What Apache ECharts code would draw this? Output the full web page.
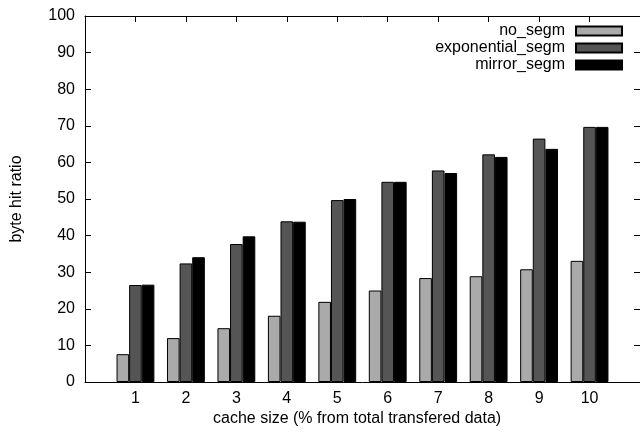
<!DOCTYPE html>
<html>
<head>
<meta charset="utf-8">
<script src="https://cdn.jsdelivr.net/npm/echarts@6/dist/echarts.min.js"></script>
<style>html,body{margin:0;padding:0;background:#fff;}#c{width:640px;height:432px;}</style>
</head>
<body>
<div id="c"></div>
<script>
var categories = [1, 2, 3, 4, 5, 6, 7, 8, 9, 10];
var xTickLabels = ['1', '2', '3', '4', '5', '6', '7', '8', '9', '10'];
var yTicks = [0, 10, 20, 30, 40, 50, 60, 70, 80, 90, 100];
var seriesNames = ['no_segm', 'exponential_segm', 'mirror_segm'];
var noSegm = [7.6, 12.0, 14.7, 18.1, 21.9, 25.0, 28.4, 28.9, 30.8, 33.1];
var exponentialSegm = [26.5, 32.4, 37.7, 43.9, 49.7, 54.7, 57.8, 62.2, 66.5, 69.7];
var mirrorSegm = [26.6, 34.1, 39.8, 43.8, 50.0, 54.7, 57.1, 61.5, 63.7, 69.7];
var colors = ['#aaaaaa', '#555555', '#000000'];

var FONT = 'Liberation Sans, Arial, Helvetica, sans-serif';
var FS = 16;

function pairs(vals) {
  return categories.map(function (c, i) { return [c, vals[i]]; });
}
var allVals = [noSegm, exponentialSegm, mirrorSegm];

var chart = echarts.init(document.getElementById('c'), null, {renderer: 'canvas'});
var xBase = {
  type: 'value', min: 0, max: 11, interval: 1,
  axisLine: {show: true, onZero: false, lineStyle: {color: '#000', width: 1}},
  splitLine: {show: false},
  axisTick: {show: true, inside: true, length: 6, lineStyle: {color: '#000'}, customValues: categories},
  axisLabel: {show: true, customValues: categories, color: '#000', fontFamily: FONT, fontSize: FS, margin: 9,
    formatter: function (v) { var i = categories.indexOf(v); return i >= 0 ? xTickLabels[i] : ''; }}
};
var yBase = {
  type: 'value', min: 0, max: 100, interval: 10,
  axisLine: {show: true, onZero: false, lineStyle: {color: '#000', width: 1}},
  splitLine: {show: false},
  axisTick: {show: true, inside: true, length: 6, lineStyle: {color: '#000'}},
  axisLabel: {show: true, color: '#000', fontFamily: FONT, fontSize: FS, margin: 10,
    formatter: function (v) { return yTicks.indexOf(v) >= 0 ? String(v) : ''; }}
};

var option = {
  animation: false,
  backgroundColor: '#fff',
  grid: {left: 85, right: -3, top: 16, bottom: 50, containLabel: false},
  xAxis: [
    xBase,
    Object.assign({}, xBase, {position: 'top', axisLabel: {show: false}})
  ],
  yAxis: [
    yBase,
    Object.assign({}, yBase, {position: 'right', axisLabel: {show: false}})
  ],
  legend: {
    orient: 'vertical', right: 12, top: 18, align: 'right',
    itemWidth: 46, itemHeight: 9, itemGap: 1,
    icon: 'rect',
    textStyle: {color: '#000', fontFamily: FONT, fontSize: FS, lineHeight: 16, padding: [0, 6, 0, 0]},
    data: seriesNames
  },
  series: seriesNames.map(function (n, i) {
    return {
      name: n, type: 'bar', xAxisIndex: 0, yAxisIndex: 0,
      data: pairs(allVals[i]),
      barWidth: '25%', barGap: '0%',
      itemStyle: {color: colors[i], borderColor: '#000', borderWidth: 1}
    };
  }),
  graphic: [
    {type: 'text', left: 213, top: 411,
      style: {text: 'cache size (% from total transfered data)', fill: '#000', font: FS + 'px ' + FONT}},
    {type: 'text', x: 17, y: 199, rotation: Math.PI / 2,
      style: {text: 'byte hit ratio', fill: '#000', font: FS + 'px ' + FONT, align: 'center', verticalAlign: 'middle'}}
  ]
};
chart.setOption(option);
</script>
</body>
</html>
